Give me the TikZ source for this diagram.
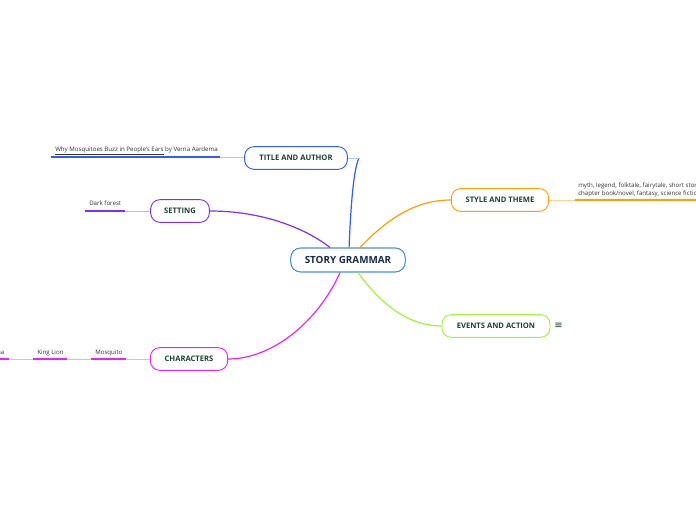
\documentclass[tikz,border=0pt]{standalone}
\usepackage{fontspec}
\setmainfont{Open Sans}
\newfontfamily\symfont{DejaVu Sans}
\definecolor{rootline}{HTML}{4A90D9}
\definecolor{rootink}{HTML}{1A2B4C}
\definecolor{topicink}{HTML}{1B4332}
\definecolor{leafink}{HTML}{333333}
\definecolor{titleline}{HTML}{2F5BFF}
\definecolor{titlelight}{HTML}{B3C3FF}
\definecolor{settingline}{HTML}{7B2FFF}
\definecolor{settinglight}{HTML}{CBB0FF}
\definecolor{charline}{HTML}{EE22EE}
\definecolor{charlight}{HTML}{F8A8F8}
\definecolor{styleline}{HTML}{FFA000}
\definecolor{stylelight}{HTML}{FFD38A}
\definecolor{eventline}{HTML}{A2F03C}

\begin{document}
\begin{tikzpicture}[x=0.75pt,y=-0.75pt,
  rootbox/.style={draw=rootline, line width=0.8pt, rounded corners=7.5pt, fill=white,
    minimum width=86pt, minimum height=18pt, inner sep=0pt,
    font=\bfseries\fontsize{7.4}{9}\selectfont, text=rootink},
  topicbox/.style={line width=0.7pt, rounded corners=7pt, fill=white,
    minimum height=17pt, inner sep=0pt,
    font=\bfseries\fontsize{5.7}{6.8}\selectfont, text=topicink},
  leaftext/.style={font=\fontsize{4.6}{5.9}\selectfont, text=leafink,
    inner sep=0pt, anchor=base west},
  branch/.style={line width=0.9pt},
  stem/.style={line width=0.6pt},
  underbar/.style={line width=1.4pt}]
\useasboundingbox (0,0) rectangle (696,520);
% main topic and subtopics
\node[rootbox] (root) at (348,260) {STORY GRAMMAR};
\node[topicbox, draw=titleline, minimum width=77pt] (title) at (296,158) {TITLE AND AUTHOR};
\node[topicbox, draw=settingline, minimum width=44pt] (setting) at (180,211) {SETTING};
\node[topicbox, draw=charline, minimum width=58pt] (chars) at (189,359) {CHARACTERS};
\node[topicbox, draw=styleline, minimum width=73pt] (style) at (500,200) {STYLE AND THEME};
\node[topicbox, draw=eventline, minimum width=81pt] (events) at (496,326) {EVENTS AND ACTION};
\node[text=topicink, font=\symfont\fontsize{7.5}{7.5}\selectfont, inner sep=0pt] (evicon) at (558.5,326) {≡};
% branches
\coordinate (tbend) at (359,158);
\draw[branch, titleline] ([xshift=0.8pt]root.north) .. controls (351,200) and (354,168) .. (tbend);
\draw[stem, titlelight] (tbend) -- (title.east);
\draw[branch, settingline] ([xshift=-13.5pt]root.north) .. controls (305,228) and (262,211) .. (setting.east);
\draw[branch, charline] ([xshift=-6pt]root.south) .. controls (318,322) and (272,359) .. (chars.east);
\draw[branch, styleline] ([xshift=9pt]root.north) .. controls (392,214) and (420,200) .. (style.west);
\draw[branch, eventline] ([xshift=7.5pt]root.south) .. controls (382,306) and (410,326) .. (events.west);
% title and author
\coordinate (titleA) at (220,157);
\coordinate (titleB) at (51,157);
\draw[stem, titlelight] (title.west |- titleA) -- (titleA);
\draw[underbar, titleline] (titleA) -- (titleB);
\node[leaftext] (book) at (55,151.2) {\underline{Why Mosquitoes Buzz in People's Ears} by Verna Aardema};
% setting
\coordinate (setA) at (125,211);
\coordinate (setB) at (85,211);
\draw[stem, settinglight] (setting.west) -- (setA);
\draw[underbar, settingline] (setA) -- (setB);
\node[leaftext] (forest) at (89,205.5) {Dark forest};
% characters
\coordinate (chA) at (126,359);
\coordinate (chB) at (91,359);
\coordinate (chC) at (67,359);
\coordinate (chD) at (33,359);
\coordinate (chE) at (9,359);
\coordinate (chF) at (-30,359);
\draw[stem, charlight] (chars.west) -- (chA);
\draw[underbar, charline] (chA) -- (chB);
\draw[stem, charlight] (chB) -- (chC);
\draw[underbar, charline] (chC) -- (chD);
\draw[stem, charlight] (chD) -- (chE);
\draw[underbar, charline] (chE) -- (chF);
\node[leaftext] (mosquito) at (95,354) {Mosquito};
\node[leaftext] (lion) at (37,354) {King Lion};
\node[leaftext, anchor=base east] (iguana) at (4.5,354) {Iguana};
% style and theme
\coordinate (styA) at (575,200);
\coordinate (styB) at (700,200);
\draw[stem, stylelight] (style.east) -- (styA);
\draw[underbar, styleline] (styA) -- (styB);
\node[leaftext, align=left, anchor=south west] (genres) at (578,197.5) {myth, legend, folktale, fairytale, short story,\\chapter book/novel, fantasy, science fiction};
\end{tikzpicture}
\end{document}
